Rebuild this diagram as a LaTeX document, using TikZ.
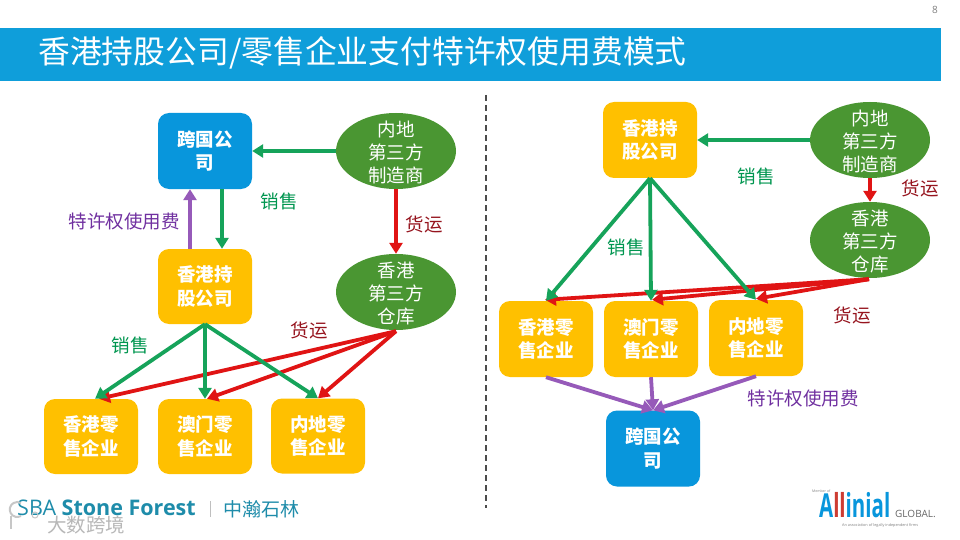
\documentclass[tikz,border=0pt]{standalone}
\usepackage{fontspec}
\setmainfont{Noto Sans CJK SC}
\newfontfamily\latinf{Open Sans}
\usetikzlibrary{arrows.meta,shapes.geometric}
\definecolor{barblue}{RGB}{15,158,218}
\definecolor{boxblue}{RGB}{8,150,220}
\definecolor{boxorange}{RGB}{255,192,0}
\definecolor{elgreen}{RGB}{74,150,50}
\definecolor{argreen}{RGB}{22,163,90}
\definecolor{arred}{RGB}{224,20,20}
\definecolor{arpurple}{RGB}{150,90,185}
\definecolor{lblred}{RGB}{150,20,30}
\definecolor{lblpurple}{RGB}{112,48,160}
\definecolor{lblgreen}{RGB}{0,150,80}
\definecolor{teal2}{RGB}{30,140,170}
\definecolor{logored}{RGB}{205,60,50}
\newcommand\elltext[1]{\smash{\raisebox{-8pt}{\begin{tabular}{@{}c@{}}#1\end{tabular}}}}
\tikzset{
 x=1pt,y=-1pt,
 blockbase/.style={rounded corners=11pt,minimum width=94pt,inner sep=0pt,align=center,text=white,font=\fontsize{18.5}{23.5}\selectfont\bfseries,execute at begin node={\rule{0pt}{20pt}}},
 orangebox/.style={blockbase,fill=boxorange,minimum height=75pt},
 bluebox/.style={blockbase,fill=boxblue,minimum height=76pt},
 greenell/.style={ellipse,fill=elgreen,minimum width=120pt,minimum height=76pt,inner sep=0pt,text=white,font=\fontsize{18.5}{23}\selectfont},
 lbl/.style={inner sep=0pt,font=\fontsize{18.5}{22}\selectfont},
 garrow/.style={draw=argreen,line width=3.8pt,-{Triangle[length=11pt,width=13pt]}},
 rarrow/.style={draw=arred,line width=3.8pt,-{Triangle[length=11pt,width=13pt]}},
 parrow/.style={draw=arpurple,line width=3.8pt,-{Triangle[length=11pt,width=13pt]}},
}
\begin{document}
\begin{tikzpicture}
\useasboundingbox (0,0) rectangle (960,540);
\fill[white] (0,0) rectangle (960,540);
\fill[barblue] (0,28) rectangle (941,81);
\node[anchor=west,inner sep=0pt,text=white,font=\fontsize{31.8}{36}\selectfont] (title) at (38,53) {香港持股公司/零售企业支付特许权使用费模式};
\node[inner sep=0pt,text=gray,font=\latinf\fontsize{10}{11}\selectfont] (pg) at (935,10) {8};
\coordinate (dtop) at (486,95);
\coordinate (dbot) at (486,508);
\draw[draw=black!70,line width=1.3pt,dash pattern=on 6pt off 4pt] (dtop) -- (dbot);

% left
\node[bluebox] (lm) at (205,151) {跨国公\\司};
\node[orangebox] (lh) at (205,286.5) {香港持\\股公司};
\node[orangebox] (lr1) at (91,436.5) {香港零\\售企业};
\node[orangebox] (lr2) at (205,436.5) {澳门零\\售企业};
\node[orangebox] (lr3) at (318,436) {内地零\\售企业};
\node[greenell] (li) at (396,151) {\elltext{内地\\第三方\\制造商}};
\node[greenell] (lw) at (396,292) {\elltext{香港\\第三方\\仓库}};
\draw[garrow] (li.west) -- (lm.east);
\draw[garrow] ([xshift=17pt]lm.south) -- ([xshift=17pt]lh.north);
\draw[parrow] ([xshift=-15pt]lh.north) -- ([xshift=-15pt]lm.south);
\draw[rarrow] (li.south) -- (lw.north);
\draw[rarrow] ([yshift=-1pt]lw.south) -- ([xshift=8pt]lr1.north);
\draw[rarrow] ([yshift=-1pt]lw.south) -- ([xshift=2pt]lr2.north);
\draw[rarrow] ([yshift=-1pt]lw.south) -- (lr3.north);
\draw[garrow] (lh.south) -- ([xshift=4pt]lr1.north);
\draw[garrow] (lh.south) -- (lr2.north);
\draw[garrow] (lh.south) -- (lr3.north);
\node[lbl,text=lblgreen] (l1) at (279,201) {销售};
\node[lbl,text=lblpurple] (l2) at (124,221) {特许权使用费};
\node[lbl,text=lblred] (l3) at (424,224) {货运};
\node[lbl,text=lblgreen] (l4) at (130,345) {销售};
\node[lbl,text=lblred] (l5) at (309,330) {货运};

% right
\node[orangebox,minimum height=76pt] (rh) at (650,140) {香港持\\股公司};
\node[greenell] (ri) at (870,140) {\elltext{内地\\第三方\\制造商}};
\node[greenell] (rw) at (870,240) {\elltext{香港\\第三方\\仓库}};
\node[orangebox,minimum height=76pt] (rr1) at (546,339) {香港零\\售企业};
\node[orangebox,minimum height=76pt] (rr2) at (651,339) {澳门零\\售企业};
\node[orangebox,minimum height=76pt] (rr3) at (756,338) {内地零\\售企业};
\node[bluebox] (rm) at (653,448.5) {跨国公\\司};
\draw[garrow] (ri.west) -- (rh.east);
\draw[rarrow] (ri.south) -- (rw.north);
\draw[rarrow] ([yshift=-1pt,xshift=-1pt]rw.south) -- ([xshift=-1pt,yshift=1pt]rr1.north);
\draw[rarrow] ([yshift=-1pt,xshift=-1pt]rw.south) -- ([xshift=1pt,yshift=1pt]rr2.north);
\draw[rarrow] ([yshift=-1pt,xshift=-1pt]rw.south) -- ([yshift=1pt]rr3.north);
\draw[garrow] (rh.south) -- (rr1.north);
\draw[garrow] (rh.south) -- (rr2.north);
\draw[garrow] (rh.south) -- (rr3.north);
\draw[parrow] (rr1.south) -- (rm.north);
\draw[parrow] (rr2.south) -- (rm.north);
\draw[parrow] (rr3.south) -- (rm.north);
\node[lbl,text=lblgreen] (r1) at (756,176) {销售};
\node[lbl,text=lblred] (r2) at (920,188) {货运};
\node[lbl,text=lblgreen] (r3) at (626,247) {销售};
\node[lbl,text=lblred] (r4) at (852,315) {货运};
\node[lbl,text=lblpurple] (r5) at (803,398) {特许权使用费};

% logos
\node[anchor=west,inner sep=0pt,text=teal2,font=\latinf\fontsize{21.5}{24}\selectfont] (sba) at (17,508) {SBA \textbf{Stone Forest}};
\coordinate (vt) at (210,501);
\coordinate (vb) at (210,517);
\draw[draw=black!25,line width=.7pt] (vt) -- (vb);
\node[anchor=west,inner sep=0pt,text=teal2,font=\fontsize{19}{22}\selectfont] (zh) at (223,509) {中瀚石林};
\node[anchor=west,inner sep=0pt,text=black!28,font=\fontsize{19.5}{22}\selectfont] (wm) at (47,525) {大数跨境};
\draw[draw=black!22,line width=2pt] (21,516) arc[start angle=60,end angle=300,radius=7.5];
\draw[draw=black!22,line width=1.2pt] (11,516) -- (11,529);
\draw[draw=black!22,line width=1pt] (35,515) circle[radius=3];
\node[anchor=west,inner sep=0pt,text=boxblue,xscale=.62,font=\latinf\bfseries\fontsize{33}{36}\selectfont] (al) at (819,505) {A\textcolor{logored}{ll}inial};
\node[anchor=west,inner sep=0pt,text=black!60,font=\latinf\fontsize{10}{11}\selectfont] (gl) at (895,514) {GLOBAL.};
\node[anchor=west,inner sep=0pt,text=black!50,font=\latinf\fontsize{3.5}{4}\selectfont] (mo) at (812,491) {Member of};
\node[anchor=west,inner sep=0pt,text=black!50,font=\latinf\fontsize{3.8}{4}\selectfont] (as) at (842,525) {An association of legally independent firms};
\end{tikzpicture}
\end{document}
